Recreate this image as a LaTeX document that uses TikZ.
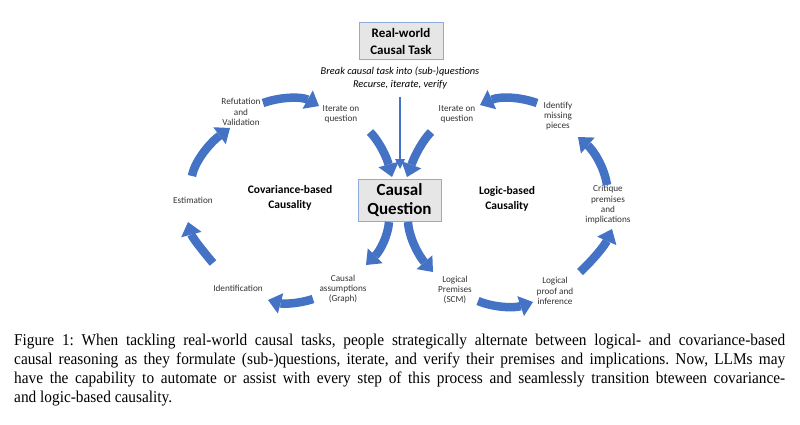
\documentclass[tikz,border=0pt]{standalone}
\usepackage{fontspec}
\setmainfont{Carlito}
\newfontfamily\capfont[FakeStretch=0.93]{Liberation Serif}
\usetikzlibrary{arrows.meta}
\definecolor{cblue}{HTML}{4472C4}
\definecolor{boxfill}{HTML}{E7E6E6}
\definecolor{boxline}{HTML}{8FAADC}
\definecolor{lbl}{HTML}{333333}
\begin{document}
\begin{tikzpicture}[x=1pt,y=-1pt,
  blk/.style={draw=cblue, line width=8.5pt, -{Triangle[width=21pt,length=13pt,line width=0pt]}},
  thinarr/.style={draw=cblue, line width=2.8pt, -{Triangle[width=10pt,length=10pt,line width=0pt]}},
  lab/.style={align=center, text=lbl, font=\fontsize{9.2}{10.3}\selectfont, inner sep=0pt},
  title/.style={align=center, font=\bfseries\fontsize{11.5}{14.5}\selectfont, inner sep=0pt},
  qbox/.style={draw=boxline, fill=boxfill, line width=1pt, align=center, inner sep=0pt},
]
\useasboundingbox (0,0) rectangle (800,425);

% boxes and notes
\node[qbox, minimum width=84pt, minimum height=37pt, font=\bfseries\fontsize{13}{16.5}\selectfont] (task) at (401,41.5) {Real-world\\Causal Task};
\node[font=\itshape\fontsize{10.4}{12.5}\selectfont, align=center, inner sep=0pt] (brk) at (400,78) {Break causal task into (sub-)questions\\Recurse, iterate, verify};
\node[qbox, minimum width=83pt, minimum height=42pt, font=\bfseries\fontsize{17}{18.5}\selectfont] (cq) at (399.5,200) {Causal\\Question};

% labels
\node[lab] (refut) at (241,112) {Refutation\\and\\Validation};
\node[lab] (iterL) at (341,114) {Iterate on\\question};
\node[lab] (iterR) at (457,114) {Iterate on\\question};
\node[lab] (ident) at (558,116) {Identify\\missing\\pieces};
\node[lab] (estim) at (193,200) {Estimation};
\node[lab] (crit) at (608,205) {Critique\\premises\\and\\implications};
\node[lab] (identif) at (238,288) {Identification};
\node[lab] (cassum) at (343,289) {Causal\\assumptions\\(Graph)};
\node[lab] (lprem) at (455,290) {Logical\\Premises\\(SCM)};
\node[lab] (lproof) at (555,291) {Logical\\proof and\\inference};
\node[title] (cov) at (290,198) {Covariance-based\\Causality};
\node[title] (logic) at (507,199) {Logic-based\\Causality};

% thin vertical arrow
\coordinate (vt) at (400,97);
\coordinate (vb) at (400,169);
\draw[thinarr] (vt) -- (vb);

% block arrow end points
\coordinate (a1s) at (263,103);  \coordinate (a1e) at (319,106);
\coordinate (a2s) at (192,176);  \coordinate (a2e) at (230,128);
\coordinate (a3s) at (213,263);  \coordinate (a3e) at (188,222);
\coordinate (a4s) at (313,299);  \coordinate (a4e) at (268,300);
\coordinate (a5s) at (389,222);  \coordinate (a5e) at (366,265);
\coordinate (a6s) at (408,222);  \coordinate (a6e) at (433,272);
\coordinate (a7s) at (478,301);  \coordinate (a7e) at (533,302);
\coordinate (a8s) at (580,272);  \coordinate (a8e) at (612,229);
\coordinate (a9s) at (607,185);  \coordinate (a9e) at (578,137);
\coordinate (a10s) at (537,103); \coordinate (a10e) at (480,105);
\coordinate (a11s) at (431,132); \coordinate (a11e) at (407,177);
\coordinate (a12s) at (370,132); \coordinate (a12e) at (392,177);

\draw[blk] (a1s) .. controls (283,96) and (303,97) .. (a1e);
\draw[blk] (a2s) .. controls (195,160) and (211,142) .. (a2e);
\draw[blk] (a3s) .. controls (202,250) and (192,237) .. (a3e);
\draw[blk] (a4s) .. controls (298,304) and (283,304) .. (a4e);
\draw[blk] (a5s) .. controls (388,236) and (380,251) .. (a5e);
\draw[blk] (a6s) .. controls (409,238) and (419,256) .. (a6e);
\draw[blk] (a7s) .. controls (495,308) and (515,308) .. (a7e);
\draw[blk] (a8s) .. controls (593,260) and (605,245) .. (a8e);
\draw[blk] (a9s) .. controls (604,166) and (593,150) .. (a9e);
\draw[blk] (a10s) .. controls (520,97) and (500,96) .. (a10e);
\draw[blk] (a11s) .. controls (423,140) and (415,155) .. (a11e);
\draw[blk] (a12s) .. controls (378,140) and (386,155) .. (a12e);

% caption
\node[anchor=north west, inner sep=0pt, text width=771pt, align=justify, font=\capfont\fontsize{16.5}{19}\selectfont\frenchspacing] (cap) at (14,333.8) {Figure 1: When tackling real-world causal tasks, people strategically alternate between logical- and covariance-based\linebreak causal reasoning as they formulate (sub-)questions, iterate, and verify their premises and implications. Now, LLMs may\linebreak have the capability to automate or assist with every step of this process and seamlessly transition bteween covariance-\linebreak and logic-based causality.};
\end{tikzpicture}
\end{document}
